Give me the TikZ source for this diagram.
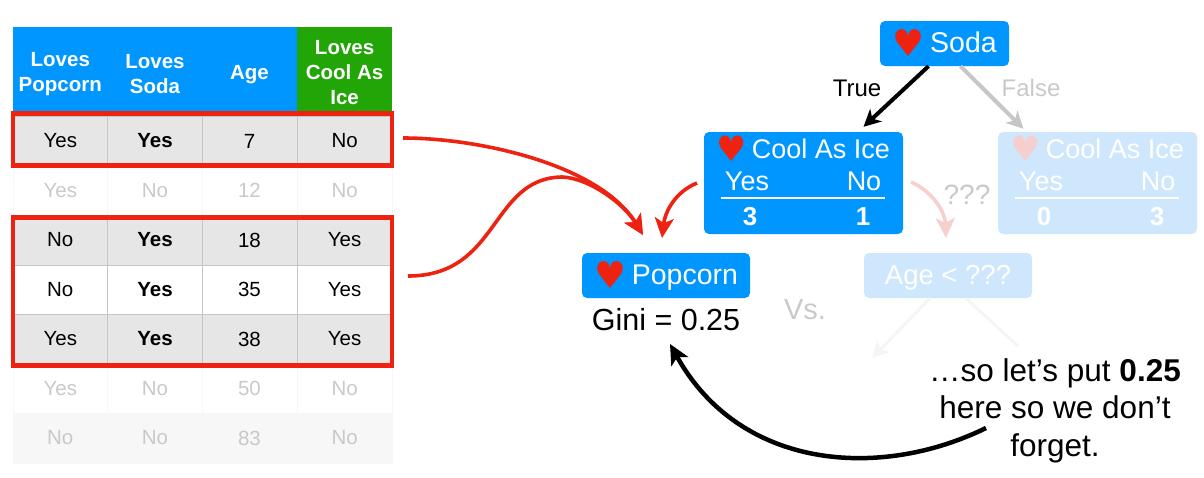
\documentclass[tikz,border=0pt]{standalone}
\usepackage{fontspec}
\setmainfont{Liberation Sans}
\newfontfamily\heartfont{DejaVu Sans}
\usetikzlibrary{arrows.meta}

\definecolor{boxblue}{HTML}{0096FF}
\definecolor{boxgreen}{HTML}{22A506}
\definecolor{boxred}{HTML}{EE2211}
\definecolor{rowgray}{HTML}{E6E6E6}
\definecolor{rulegray}{HTML}{C6C6C6}
\definecolor{fadetext}{HTML}{C9C9C9}
\definecolor{fadeblue}{HTML}{CFE7FC}
\definecolor{fadeheart}{HTML}{F5CFD0}
\definecolor{fadepink}{HTML}{F8CFCF}

\newcommand{\heartmark}[1]{\raisebox{-3.5pt}{\scalebox{1.25}[1.3]{\heartfont\color{#1}♥}}\hspace{-2pt}}

\tikzset{
    cell/.style={minimum width=94.6pt, minimum height=49.5pt, inner sep=0pt, draw=rulegray, line width=0.5pt, font=\fontsize{20.5}{24}\selectfont},
    graycell/.style={cell, fill=rowgray},
    boldcell/.style={font=\bfseries\fontsize{20.5}{24}\selectfont},
    palecell/.style={cell, draw=black!3, text=fadetext},
    headcell/.style={minimum width=94.6pt, minimum height=95pt, inner sep=0pt, fill=boxblue, text=white, align=center, font=\bfseries\fontsize{20.5}{25}\selectfont},
    hilite/.style={draw=boxred, line width=4.6pt, minimum width=379pt, inner sep=0pt},
    treebox/.style={fill=boxblue, rounded corners=5pt, inner sep=0pt, text=white, text height=24pt, text depth=6pt, font=\fontsize{28.5}{33}\selectfont},
    fadebox/.style={treebox, fill=fadeblue},
    tag/.style={inner sep=0pt, font=\fontsize{27}{33}\selectfont},
    digit/.style={tag, text=white, font=\bfseries\fontsize{26}{33}\selectfont},
    branch/.style={line width=4pt, -{Stealth[length=17pt,width=17pt,inset=5pt]}},
    curved/.style={line width=3.6pt, -{Stealth[length=20pt,width=19pt,inset=5pt]}}
}

\begin{document}
\begin{tikzpicture}[x=1pt, y=-1pt]

    \useasboundingbox (0,0) rectangle (1204,477);

    % 1. Free ends of the curved arrows
    \coordinate (rowout) at (403,138);
    \coordinate (rowsout) at (408,276);
    \coordinate (coolout) at (697,183);
    \coordinate (tipleft) at (643,235);
    \coordinate (tipright) at (662,238);
    \coordinate (pinkout) at (911,182);
    \coordinate (tipage) at (946,238);
    \coordinate (noteout) at (986,428);
    \coordinate (giniin) at (670,344);

    % 2. Table
    \node[headcell] (h1) at (60.3,74.5) {Loves\\Popcorn};
    \node[headcell] (h2) at (155,74.5) {Loves\\Soda};
    \node[headcell] (h3) at (249.5,74.5) {Age};
    \node[headcell, fill=boxgreen, minimum height=91pt] (h4) at (344.6,72.5) {Loves\\Cool As\\Ice};

    \node[graycell] (a1) at (60.3,141) {Yes};
    \node[graycell, boldcell] (a2) at (155,141) {Yes};
    \node[graycell] (a3) at (249.5,141) {7};
    \node[graycell] (a4) at (344.6,141) {No};

    \node[palecell] (b1) at (60.3,190.5) {Yes};
    \node[palecell] (b2) at (155,190.5) {No};
    \node[palecell] (b3) at (249.5,190.5) {12};
    \node[palecell] (b4) at (344.6,190.5) {No};

    \node[graycell] (c1) at (60.3,240) {No};
    \node[graycell, boldcell] (c2) at (155,240) {Yes};
    \node[graycell] (c3) at (249.5,240) {18};
    \node[graycell] (c4) at (344.6,240) {Yes};

    \node[cell] (d1) at (60.3,289.5) {No};
    \node[cell, boldcell] (d2) at (155,289.5) {Yes};
    \node[cell] (d3) at (249.5,289.5) {35};
    \node[cell] (d4) at (344.6,289.5) {Yes};

    \node[graycell] (e1) at (60.3,339) {Yes};
    \node[graycell, boldcell] (e2) at (155,339) {Yes};
    \node[graycell] (e3) at (249.5,339) {38};
    \node[graycell] (e4) at (344.6,339) {Yes};

    \node[palecell] (f1) at (60.3,388.5) {Yes};
    \node[palecell] (f2) at (155,388.5) {No};
    \node[palecell] (f3) at (249.5,388.5) {50};
    \node[palecell] (f4) at (344.6,388.5) {No};

    \node[palecell, fill=black!3] (g1) at (60.3,438) {No};
    \node[palecell, fill=black!3] (g2) at (155,438) {No};
    \node[palecell, fill=black!3] (g3) at (249.5,438) {83};
    \node[palecell, fill=black!3] (g4) at (344.6,438) {No};

    % 3. Red frames round the rows
    \node[hilite, minimum height=51.5pt] (rowbox) at (202.5,139.5) {};
    \node[hilite, minimum height=147.5pt] (rowsbox) at (202.5,291.5) {};

    % 4. Tree boxes
    \node[treebox, minimum width=129pt, minimum height=45pt] (soda) at (944.5,43.5) {\heartmark{boxred} Soda};
    \node[treebox, minimum width=199pt, minimum height=102pt] (cool) at (803.5,183) {};
    \node[fadebox, minimum width=199pt, minimum height=102pt] (fadecool) at (1097.5,183) {};
    \node[treebox, minimum width=168pt, minimum height=45pt] (popcorn) at (666,275.5) {\heartmark{boxred} Popcorn};
    \node[fadebox, minimum width=168pt, minimum height=45pt, font=\fontsize{27.5}{33}\selectfont] (age) at (948,275.5) {Age < ???};

    % Contents of the two Cool As Ice boxes
    \node[tag, text=white] (cooltitle) at (803,149) {\heartmark{boxred} Cool As Ice};
    \node[tag, text=white] (coolyes) at (747,181) {Yes};
    \node[tag, text=white] (coolno) at (864,181) {No};
    \node[digit] (coolthree) at (750,217) {3};
    \node[digit] (coolone) at (863,217) {1};
    \draw[white, line width=2.4pt] (721,198) -- (885,198);

    \node[tag, text=white] (fadetitle) at (1097,149) {\heartmark{fadeheart} Cool As Ice};
    \node[tag, text=white] (fadeyes) at (1041,181) {Yes};
    \node[tag, text=white] (fadeno) at (1158,181) {No};
    \node[digit] (fadezero) at (1044,217) {0};
    \node[digit] (fadethree) at (1157,217) {3};
    \draw[white, line width=2.4pt] (1015,198) -- (1179,198);

    % 5. Labels
    \node[tag, font=\fontsize{24}{33}\selectfont] (truetag) at (857,88) {True};
    \node[tag, text=fadetext, font=\fontsize{24}{33}\selectfont] (falsetag) at (1031,88) {False};
    \node[tag, text=fadetext, font=\fontsize{28}{33}\selectfont] (unknown) at (967,195) {???};
    \node[tag, text=fadetext, font=\fontsize{29}{33}\selectfont] (vs) at (805,310) {Vs.};
    \node[tag, font=\fontsize{30.5}{33}\selectfont] (gini) at (666,320) {Gini = 0.25};
    \node[inner sep=0pt, align=center, font=\fontsize{31.5}{37.5}\selectfont] (note) at (1055,410.5) {…so let’s put \textbf{0.25}\\here so we don’t\\forget.};

    % 6. Arrows
    \draw[branch, black] ([xshift=-16pt]soda.south) -- ([xshift=60pt,yshift=5pt]cool.north);
    \draw[branch, rulegray] ([xshift=16pt]soda.south) -- ([xshift=-74pt,yshift=3pt]fadecool.north);
    \draw[branch, line width=3pt, black!4] ([xshift=-18pt]age.south) -- ++(-58,60);
    \draw[line width=3pt, black!4] ([xshift=18pt]age.south) -- ++(52,48);

    \draw[curved, boxred] (rowout) .. controls (480,138) and (600,165) .. (tipleft);
    \draw[curved, boxred] (rowsout) .. controls (500,276) and (490,178) .. (562,177) .. controls (590,178) and (625,205) .. (tipleft);
    \draw[curved, boxred] (coolout) .. controls (675,192) and (665,212) .. (tipright);
    \draw[curved, fadepink] (pinkout) .. controls (930,190) and (945,210) .. (tipage);
    \draw[curved, black, line width=4.5pt] (noteout) .. controls (880,480) and (740,470) .. (giniin);

\end{tikzpicture}
\end{document}
